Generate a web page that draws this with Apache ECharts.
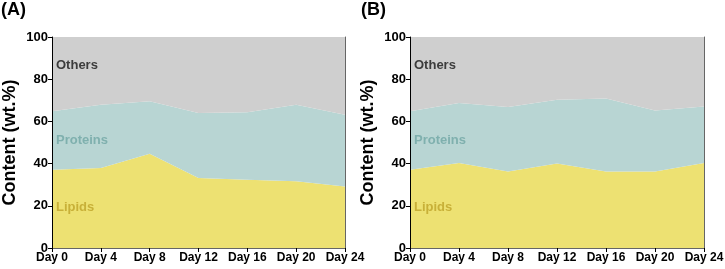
<!DOCTYPE html>
<html>
<head>
<meta charset="utf-8">
<script src="https://cdn.jsdelivr.net/npm/echarts@6/dist/echarts.min.js"></script>
<style>
  html, body { margin: 0; padding: 0; background: #fff; }
  #chart { width: 725px; height: 269px; }
</style>
</head>
<body>
<div id="chart"></div>
<script>
const days = ['Day 0', 'Day 4', 'Day 8', 'Day 12', 'Day 16', 'Day 20', 'Day 24']
const yTicks = [0, 20, 40, 60, 80, 100]

// panel A (wt.%)
const lipidsA = [37.1, 37.9, 44.7, 33.2, 32.4, 31.6, 29.2]
const proteinsA = [27.7, 30.0, 24.8, 30.8, 31.9, 36.3, 34.0]
const othersA = [35.2, 32.1, 30.5, 36.0, 35.7, 32.1, 36.8]

// panel B (wt.%)
const lipidsB = [37.1, 40.3, 36.3, 40.0, 36.3, 36.3, 40.3]
const proteinsB = [27.7, 28.4, 30.5, 30.3, 34.5, 28.9, 26.8]
const othersB = [35.2, 31.3, 33.2, 29.7, 29.2, 34.8, 32.9]

const FONT = 'Liberation Sans, Arial, sans-serif'
const colors = { lipids: '#ede172', proteins: '#b8d5d3', others: '#cfcfcf' }

const chart = echarts.init(document.getElementById('chart'))

function xAxisFor (idx) {
  return [
    {
      type: 'category',
      gridIndex: idx,
      data: days,
      boundaryGap: false,
      axisLine: { lineStyle: { color: '#000', width: 1 } },
      axisTick: { alignWithLabel: true, length: 4, lineStyle: { color: '#000' } },
      axisLabel: { color: '#000', fontFamily: FONT, fontWeight: 'bold', fontSize: 12, margin: 4, interval: 0 },
      splitLine: { show: false },
      z: 5
    },
    {
      type: 'category',
      gridIndex: idx,
      position: 'top',
      data: days,
      boundaryGap: false,
      axisLine: { lineStyle: { color: '#666', width: 1 } },
      axisTick: { show: false },
      axisLabel: { show: false },
      z: 5
    }
  ]
}

function yAxisFor (idx) {
  return [
    {
      type: 'value',
      gridIndex: idx,
      min: 0,
      max: 100,
      interval: 20,
      name: 'Content (wt.%)',
      nameLocation: 'middle',
      nameGap: 33,
      nameTextStyle: { color: '#000', fontFamily: FONT, fontWeight: 'bold', fontSize: 18 },
      axisLine: { show: true, lineStyle: { color: '#000', width: 1 } },
      axisTick: { show: true, length: 4, lineStyle: { color: '#000' } },
      axisLabel: {
        color: '#000', fontFamily: FONT, fontWeight: 'bold', fontSize: 13, margin: 4,
        formatter: v => yTicks.includes(v) ? String(v) : ''
      },
      splitLine: { show: false },
      z: 5
    },
    {
      type: 'value',
      gridIndex: idx,
      position: 'right',
      min: 0,
      max: 100,
      interval: 20,
      axisLine: { show: true, lineStyle: { color: '#666', width: 1 } },
      axisTick: { show: false },
      axisLabel: { show: false },
      splitLine: { show: false },
      z: 5
    }
  ]
}

function areaSeries (idx, name, data, color) {
  return {
    name: name,
    type: 'line',
    xAxisIndex: idx * 2,
    yAxisIndex: idx * 2,
    stack: 'total' + idx,
    data: data,
    symbol: 'none',
    smooth: false,
    lineStyle: { width: 0 },
    areaStyle: { color: color, opacity: 1 },
    emphasis: { disabled: true }
  }
}

function labelsFor (left) {
  const base = { fontFamily: FONT, fontWeight: 'bold', fontSize: 13 }
  return [
    { type: 'text', left: left, top: 59, style: Object.assign({ text: 'Others', fill: '#3c3c3c' }, base), z: 10 },
    { type: 'text', left: left, top: 134, style: Object.assign({ text: 'Proteins', fill: '#7fb0ae' }, base), z: 10 },
    { type: 'text', left: left, top: 201, style: Object.assign({ text: 'Lipids', fill: '#c8b038' }, base), z: 10 }
  ]
}

const Options = {
  animation: false,
  grid: [
    { left: 52, top: 37, width: 293, height: 211, outerBoundsMode: 'none', containLabel: false },
    { left: 410, top: 37, width: 294, height: 211, outerBoundsMode: 'none', containLabel: false }
  ],
  xAxis: xAxisFor(0).concat(xAxisFor(1)),
  yAxis: yAxisFor(0).concat(yAxisFor(1)),
  series: [
    areaSeries(0, 'Lipids', lipidsA, colors.lipids),
    areaSeries(0, 'Proteins', proteinsA, colors.proteins),
    areaSeries(0, 'Others', othersA, colors.others),
    areaSeries(1, 'Lipids', lipidsB, colors.lipids),
    areaSeries(1, 'Proteins', proteinsB, colors.proteins),
    areaSeries(1, 'Others', othersB, colors.others)
  ],
  graphic: [
    { type: 'text', left: 1, top: 1, style: { text: '(A)', fill: '#000', fontFamily: FONT, fontWeight: 'bold', fontSize: 18 } },
    { type: 'text', left: 361, top: 1, style: { text: '(B)', fill: '#000', fontFamily: FONT, fontWeight: 'bold', fontSize: 18 } }
  ].concat(labelsFor(56)).concat(labelsFor(414))
}

chart.setOption(Options)
</script>
</body>
</html>
